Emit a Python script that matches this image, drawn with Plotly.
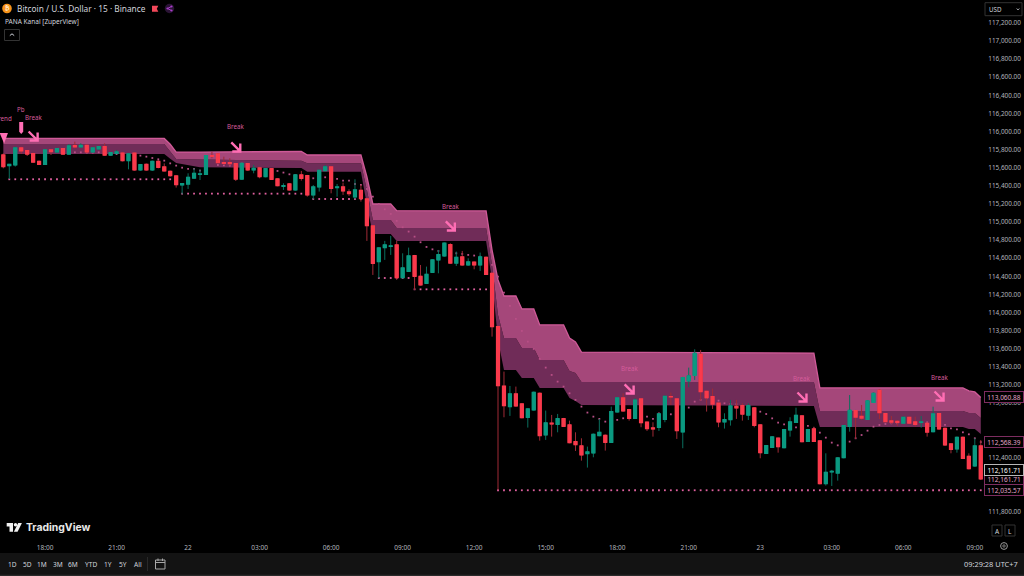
import plotly.graph_objects as go

open_ = [115740,115623,115630,115818,115788,115755,115670,115637,115796,115774,115810,115751,115844,115829,115847,115774,115807,115832,115740,115759,115762,115678,115762,115575,115637,115575,115670,115608,115560,115508,
115409,115420,115486,115527,115527,115733,115751,115656,115656,115645,115475,115645,115575,115597,115501,115590,115476,115395,115420,115354,
115520,115512,115299,115387,115568,115608,115380,115387,115332,115277,115350,115255,114956,114562,114717,114732,114746,114385,114455,114629,
114400,114323,114444,114581,114625,114750,114547,114614,114525,114555,114525,114610,114433,113844,113185,112960,113100,112989,112842,112923,
113107,112647,112776,112765,112827,112757,112573,112525,112441,112448,112640,112643,112566,112901,113056,112927,112831,113045,112787,112724,
112732,112820,113070,113045,112680,113244,113306,113538,113129,113070,112997,112791,112816,112963,112970,112867,112945,112757,112444,112510,
112610,112506,112702,112786,112856,112576,112713,112580,112109,112238,112226,112396,112742,112915,112853,112819,113007,113140,112882,112801,
112797,112779,112842,112790,112786,112775,112683,112882,112720,112547,112492,112621,112411,112304,112525]
high = [115759,115637,115832,115832,115796,115766,115678,115803,115807,115818,115818,115862,115888,115869,115858,115825,115840,115869,115774,115796,115770,115759,115770,115641,115645,115678,115685,115648,115567,115516,
115427,115538,115593,115582,115740,115777,115759,115722,115704,115652,115656,115652,115630,115604,115597,115597,115483,115428,115428,115527,
115564,115520,115409,115575,115630,115616,115420,115435,115361,115472,115409,115262,114964,114721,114791,114846,114791,114654,114717,114636,
114525,114507,114588,114691,114772,114765,114673,114680,114599,114562,114662,114617,114440,113850,113347,113188,113181,112997,112942,113126,
113115,112916,112868,112879,112835,112805,112676,112610,112518,112662,112824,112651,112960,113063,113107,112934,113052,113052,112794,112787,
112886,113081,113115,113052,113288,113391,113593,113586,113137,113159,113004,112886,113034,113034,112996,112996,112952,112764,112536,112632,
112617,112713,112842,112948,112864,112713,112738,112587,112444,112260,112400,112757,113088,112923,112978,113029,113114,113147,112889,112856,
112812,112849,112849,112849,112856,112783,112959,112889,112727,112554,112628,112628,112444,112610,112591]
low = [115593,115475,115612,115751,115729,115656,115630,115630,115740,115766,115744,115744,115814,115821,115759,115766,115799,115733,115733,115751,115670,115582,115567,115567,115567,115564,115593,115560,115501,115380,
115306,115365,115479,115464,115519,115704,115648,115630,115623,115453,115468,115567,115538,115483,115494,115465,115395,115354,115347,115347,
115457,115280,115251,115336,115560,115317,115280,115299,115288,115251,115225,114791,114415,114378,114581,114636,114360,114378,114448,114249,
114297,114315,114437,114433,114617,114540,114514,114518,114518,114477,114459,114415,113733,112039,112842,112857,112960,112831,112728,112916,
112584,112592,112628,112676,112735,112555,112470,112363,112286,112400,112632,112474,112559,112894,112905,112805,112824,112732,112691,112628,
112691,112787,112978,112603,112500,113174,113255,113026,112905,112934,112732,112717,112750,112824,112805,112812,112731,112389,112436,112503,
112451,112499,112628,112779,112565,112569,112569,112101,112087,112083,112142,112389,112683,112602,112812,112812,113000,112823,112786,112768,
112746,112772,112772,112738,112727,112628,112676,112705,112528,112444,112451,112381,112267,112296,112149]
close = [115612,115637,115818,115785,115751,115663,115637,115796,115777,115810,115751,115840,115829,115847,115774,115818,115832,115740,115766,115774,115678,115751,115575,115634,115575,115670,115604,115564,115512,115413,
115424,115494,115538,115530,115733,115726,115656,115648,115645,115475,115648,115575,115593,115501,115590,115472,115402,115402,115354,115520,
115483,115299,115387,115571,115608,115372,115387,115343,115314,115354,115258,114960,114544,114713,114746,114735,114385,114492,114625,114400,
114304,114422,114581,114640,114765,114547,114610,114525,114559,114525,114614,114422,113844,113192,112971,113100,112967,112838,112934,113118,
112640,112780,112768,112827,112743,112562,112540,112426,112459,112654,112676,112566,112905,113056,112912,112831,113030,112783,112717,112713,
112879,113074,113067,112695,113280,113299,113549,113126,113059,112989,112791,112816,112967,112945,112878,112970,112753,112451,112528,112624,
112517,112705,112790,112864,112573,112705,112576,112109,112234,112245,112392,112749,112919,112845,112834,113022,113107,112893,112794,112790,
112786,112842,112779,112764,112790,112679,112878,112713,112536,112488,112621,112389,112274,112525,112161.71]

band_bars = [0,27,28,29,33,50,51,60,61,62,65,66,81,82,83,84,86,87,89,90,94,95,96,97,136,137,161,162,163,164]
band_upper = [115923,115923,115859,115773,115773,115779,115740,115740,115500,115199,115199,115125,115122,114690,114359,114182,114182,114039,114039,113862,113862,113718,113674,113563,113552,113166,113166,113133,113122,113060.88]
band_mid = [115862,115862,115780,115696,115690,115677,115649,115649,115353,115022,115022,114934,114934,114525,113972,113718,113718,113608,113608,113475,113475,113354,113332,113232,113232,112912,112912,112890,112890,112834]
band_lower = [115751,115751,115700,115652,115604,115597,115556,115556,115188,114867,114867,114790,114790,114359,113696,113365,113365,113276,113276,113166,113166,113055,113022,112978,112967,112735,112735,112713,112713,112657]

trail_bars = [12,13,14,15,16,17,18,19,20,21,22,23,24,25,26,27,28,29,30,31,32,33,36,37,38,40,46,47,48,49,52,54,56,57,58,59,60,61,62,63,64,65,66,67,68,69,70,71,72,73,74,75,76,77,78,79,80,81,82,83,84,85,86,87,88,89,90,91,92,93,94,95,96,97,98,99,100,101,103,104,105,106,108,109,110,111,112,115,116,117,118,119,120,121,122,123,127,128,129,130,131,132,133,134,135,136,137,138,139,140,141,142,143,144,145,146,147,148,149,150,151,152,153,154,155,158,159,160,161,162,163,164]
trail_vals = [115770,115770,115766,115766,115770,115759,115748,115751,115755,115748,115740,115733,115722,115707,115693,115678,115648,115623,115600,115586,115586,115567,115630,115626,115623,115648,115564,115546,115527,115520,115483,115494,115476,115457,115457,115420,115409,115365,115280,115199,115140,115089,115012,114942,114894,114838,114776,114724,114698,114680,114680,114673,114654,114647,114636,114629,114617,114599,114525,114396,114220,114072,113929,113796,113678,113597,113487,113391,113310,113236,113181,113107,113034,112960,112894,112849,112824,112794,112813,112831,112857,112879,112850,112824,112886,112879,112875,112949,113015,113034,113052,113052,113026,112997,112989,112986,112904,112878,112830,112783,112764,112746,112731,112731,112746,112720,112672,112617,112562,112532,112525,112573,112610,112646,112694,112738,112757,112768,112775,112775,112783,112783,112783,112786,112786,112757,112720,112709,112676,112654,112610,112568.39]

level_starts = [1,30,52,63,69,83]
level_ends = [28,50,60,68,81,164]
level_vals = [115472,115313,115254,114381,114256,112035.57]

tick_bars = [7,19,31,43,55,67,79,91,103,115,127,139,151,163]
tick_labels = ["18:00","21:00","22","03:00","06:00","09:00","12:00","15:00","18:00","21:00","23","03:00","06:00","09:00"]
price_ticks = [117200,117000,116800,116600,116400,116200,116000,115800,115600,115400,115200,115000,114800,114600,114400,114200,114000,113800,113600,113400,113200,113000,112400,111800]

break_bars = [5,39,75,105,134,157]
break_arrow_prices = [115950,115829,114956,113155,113066,113077]
break_label_prices = [116160,116050,115166,113376,113276,113287]
pb_bar, pb_price, pb_label_price = 3, 116039, 116238
trend_bar, trend_price, trend_label_price = 0, 115928, 116149

level_tags = [113060.88,112568.39,112161.71,112035.57]
last_price = 112161.71
range_labels = ["1D","5D","1M","3M","6M","YTD","1Y","5Y","All"]
title_text = "Bitcoin / U.S. Dollar · 15 · Binance"
indicator_text = "PANA Kanal [ZuperView]"

W, H = 1024, 576
BOTTOM, RIGHT = 538, 983
FONT = "Noto Sans"
PINK = "#ff6eb4"
LAB = "#d45c9a"

def px(x): return x / W
def py(y): return 1 - y / H

def cs(x, o, h, l, c, up, dn, lw):
    return go.Candlestick(x=x, open=o, high=h, low=l, close=c, whiskerwidth=0, xaxis="x2", yaxis="y2",
        increasing=dict(line=dict(color=up, width=lw), fillcolor=up),
        decreasing=dict(line=dict(color=dn, width=lw), fillcolor=dn), hoverinfo="skip")

bars = list(range(len(close)))
fig = go.Figure()
# channel
fig.add_trace(go.Scatter(x=band_bars, y=band_lower, mode="lines", line=dict(width=0, color="#702c58"), hoverinfo="skip"))
fig.add_trace(go.Scatter(x=band_bars, y=band_mid, mode="lines", line=dict(width=0, color="#702c58"), fill="tonexty", fillcolor="#702c58", hoverinfo="skip"))
fig.add_trace(go.Scatter(x=band_bars, y=band_upper, mode="lines", line=dict(width=1.3, color="#cf5a98"), fill="tonexty", fillcolor="#a5477a", hoverinfo="skip"))
# dots
fig.add_trace(go.Scatter(x=trail_bars, y=trail_vals, mode="markers", marker=dict(size=1.8, color="#b84f86", symbol="square", line=dict(width=0)), hoverinfo="skip"))
for s, e, v in zip(level_starts, level_ends, level_vals):
    xs = list(range(s, e + 1))
    fig.add_trace(go.Scatter(x=xs, y=[v] * len(xs), mode="markers", marker=dict(size=1.8, color="#e0609f", symbol="square", line=dict(width=0)), hoverinfo="skip"))
# candles on an overlaid axis pair so they sit above the channel: wicks then bodies
fig.add_trace(cs(bars, open_, high, low, close, "#0a6f5e", "#a02a36", 1))
b_hi = [max(o, c) for o, c in zip(open_, close)]
b_lo = [min(o, c) for o, c in zip(open_, close)]
fig.add_trace(cs(bars, open_, b_hi, b_lo, close, "#0b9981", "#fa3a4c", 1.3))

ann = []
def T(x, y, text, size=7, color="#d1d4dc", anchor="left", xref="paper", yref="paper", family=FONT, **kw):
    ann.append(dict(x=x, y=y, text=text, xref=xref, yref=yref, xanchor=anchor, yanchor="middle", showarrow=False,
                    font=dict(size=size, color=color, family=family), **kw))

for b, p in zip(break_bars, break_label_prices):
    T(b, p, "Break", size=6.2, color=LAB, anchor="center", xref="x", yref="y")
T(pb_bar, pb_label_price, "Pb", size=6.2, color=LAB, anchor="center", xref="x", yref="y")
T(trend_bar + 1.75, trend_label_price, "Trend", size=6.2, color=LAB, anchor="right", xref="x", yref="y")

# right price tags
for p in level_tags:
    T(px(1003.5), p, f"{p:,.2f}", size=6.5, color="#e3a6c9", anchor="center", yref="y", bgcolor="#000000", bordercolor="#7d2d60", borderwidth=1, borderpad=0, width=38, height=10)
T(px(1003.5), py(470), f"{last_price:,.2f}", size=6.5, color="#ffffff", anchor="center", bgcolor="#000000", bordercolor="#b8b8b8", borderwidth=1, borderpad=0, width=38, height=10)

# chrome text
T(px(14.8), py(8.5), title_text, size=8.3, color="#d1d4dc")
T(px(2.8), py(21.5), indicator_text, size=6.5, color="#d1d4dc")
T(px(7), py(8.5), "₿", size=6.5, color="#ffffff", anchor="center", family="DejaVu Sans")
T(px(986.5), py(9), "USD", size=6.2, color="#d1d4dc")
T(px(24), py(527), "<b>TradingView</b>", size=10.4, color="#e8e8e8", family="Inter")
T(px(997), py(531), "A", size=6.5, anchor="center")
T(px(1010), py(531), "L", size=6.5, anchor="center")
T(px(1019.5), py(564), "09:29:28 UTC+7", size=7.4, anchor="right")
for x, t in zip([12, 27, 42, 57.5, 73, 90.5, 108, 122.5, 137.5], range_labels):
    T(px(x), py(564), t, size=6.6, anchor="center")

shapes = []
def P(path, line=None, fill=None, lw=1, **kw):
    shapes.append(dict(type="path", path=path, xref="paper", yref="paper", line=dict(color=line or "rgba(0,0,0,0)", width=lw if line else 0), fillcolor=fill or "rgba(0,0,0,0)", layer="above", **kw))
def rect(x0, y0, x1, y1, line=None, fill=None, lw=1, layer="above"):
    shapes.append(dict(type="rect", xref="paper", yref="paper", x0=px(x0), x1=px(x1), y0=py(y0), y1=py(y1), line=dict(color=line or "rgba(0,0,0,0)", width=lw if line else 0), fillcolor=fill or "rgba(0,0,0,0)", layer=layer))
def circ(cx, cy, r, line=None, fill=None, lw=1):
    shapes.append(dict(type="circle", xref="paper", yref="paper", x0=px(cx - r), x1=px(cx + r), y0=py(cy - r), y1=py(cy + r), line=dict(color=line or "rgba(0,0,0,0)", width=lw if line else 0), fillcolor=fill or "rgba(0,0,0,0)", layer="below"))
def poly(pts, close_=True, **kw):
    d = "M " + " L ".join(f"{px(a):.5f},{py(b):.5f}" for a, b in pts) + (" Z" if close_ else "")
    P(d, **kw)

rect(0, 553, W, 574.5, fill="#131313", layer="below")
rect(0, 574.5, W, 576, fill="#2a2a2a", layer="below")
rect(147.3, 557, 147.9, 571, fill="#3a3a3a")
circ(7, 8.5, 4.8, fill="#f7931a")
poly([(152, 5.7), (158.3, 5.7), (156.8, 8.7), (158.3, 11.7), (152, 11.7)], fill="#f2485a")
circ(169.5, 8.5, 4.7, fill="#2b1436")
poly([(171.5, 6.5), (167.5, 8.5), (171.5, 10.5)], close_=False, line="#a83cc8", lw=1)
circ(171.5, 6.5, 1.1, fill="#a83cc8"); circ(167.5, 8.5, 1.1, fill="#a83cc8"); circ(171.5, 10.5, 1.1, fill="#a83cc8")
rect(4.5, 29.5, 19.5, 40.5, line="#333333")
poly([(9.8, 35.6), (12, 33.8), (14.2, 35.6)], close_=False, line="#d1d4dc", lw=1)
rect(985, 2.7, 1022, 15.7, line="#333333")
poly([(1016.8, 8.6), (1018, 9.8), (1019.2, 8.6)], close_=False, line="#d1d4dc", lw=1)
rect(992, 525, 1002, 536, line="#333333")
rect(1005, 525, 1015, 536, line="#333333")
circ(1004, 546, 3.4, line="#9a9a9a", lw=1); circ(1004, 546, 1.2, line="#9a9a9a", lw=0.8)
rect(155.5, 560, 165, 569, line="#a8a8a8")
poly([(155.5, 562.5), (165, 562.5)], close_=False, line="#a8a8a8")
poly([(158, 558.5), (158, 561)], close_=False, line="#a8a8a8")
poly([(162.5, 558.5), (162.5, 561)], close_=False, line="#a8a8a8")
# TradingView mark
poly([(6.7, 523), (13, 523), (13, 531.7), (9.5, 531.7), (9.5, 526.5), (6.7, 526.5)], fill="#f0f0f0")
circ(15.5, 524.8, 1.7, fill="#f0f0f0")
poly([(21.9, 523), (17.6, 531.7), (13.9, 531.7), (18.2, 523)], fill="#f0f0f0")

# anchored signal glyphs, sized in pixels
def glyph(bar, price, path, **kw):
    shapes.append(dict(type="path", xref="x", yref="y", xsizemode="pixel", ysizemode="pixel", xanchor=bar, yanchor=price, path=path, layer="above", **kw))
for b, p in zip(break_bars, break_arrow_prices):
    glyph(b, p, "M -4.5 4.5 L 4.5 -4.5 M 4.5 3.5 L 4.5 -4.5 L -3.5 -4.5", line=dict(color=PINK, width=2.4), fillcolor="rgba(0,0,0,0)")
glyph(pb_bar, pb_price, "M -2 6 L 2 6 L 2 -3.5 L 2.2 -3.5 L 0 -6 L -2.2 -3.5 L -2 -3.5 Z", line=dict(width=0), fillcolor=PINK)
glyph(trend_bar, trend_price, "M -3.6 5 L 4.6 5 L 0.8 -5.5 Z", line=dict(width=0), fillcolor=PINK)

xrange_ = [-3.33 / 5.96, (RIGHT - 3.33) / 5.96]
yrange_ = [111508, 117453]
fig.update_layout(
    width=W, height=H, autosize=False, margin=dict(l=0, r=0, t=0, b=0, pad=0),
    paper_bgcolor="#000000", plot_bgcolor="#000000", showlegend=False, hovermode=False,
    font=dict(family=FONT, color="#b2b5bd", size=6.5),
    xaxis=dict(domain=[0, RIGHT / W], range=xrange_, tickmode="array", tickvals=tick_bars, ticktext=tick_labels,
               showgrid=False, zeroline=False, showline=False, rangeslider=dict(visible=False), tickfont=dict(size=6.5, color="#b2b5bd", family=FONT), ticks="outside", ticklen=3, tickcolor="#000000"),
    yaxis=dict(domain=[1 - BOTTOM / H, 1], range=yrange_, side="right", tickmode="array", tickvals=price_ticks, tickformat=",.2f",
               showgrid=False, zeroline=False, showline=False, tickfont=dict(size=6.4, color="#b2b5bd", family=FONT), ticks="outside", ticklen=3, tickcolor="#000000"),
    xaxis2=dict(overlaying="x", anchor="y2", domain=[0, RIGHT / W], range=xrange_, visible=False, rangeslider=dict(visible=False)),
    yaxis2=dict(overlaying="y", anchor="x2", domain=[1 - BOTTOM / H, 1], range=yrange_, visible=False),
    annotations=ann, shapes=shapes,
)
fig.write_html("out.html", config=dict(displayModeBar=False), post_script="document.body.style.margin='0';document.body.style.background='#000';document.documentElement.style.overflow='hidden';")
